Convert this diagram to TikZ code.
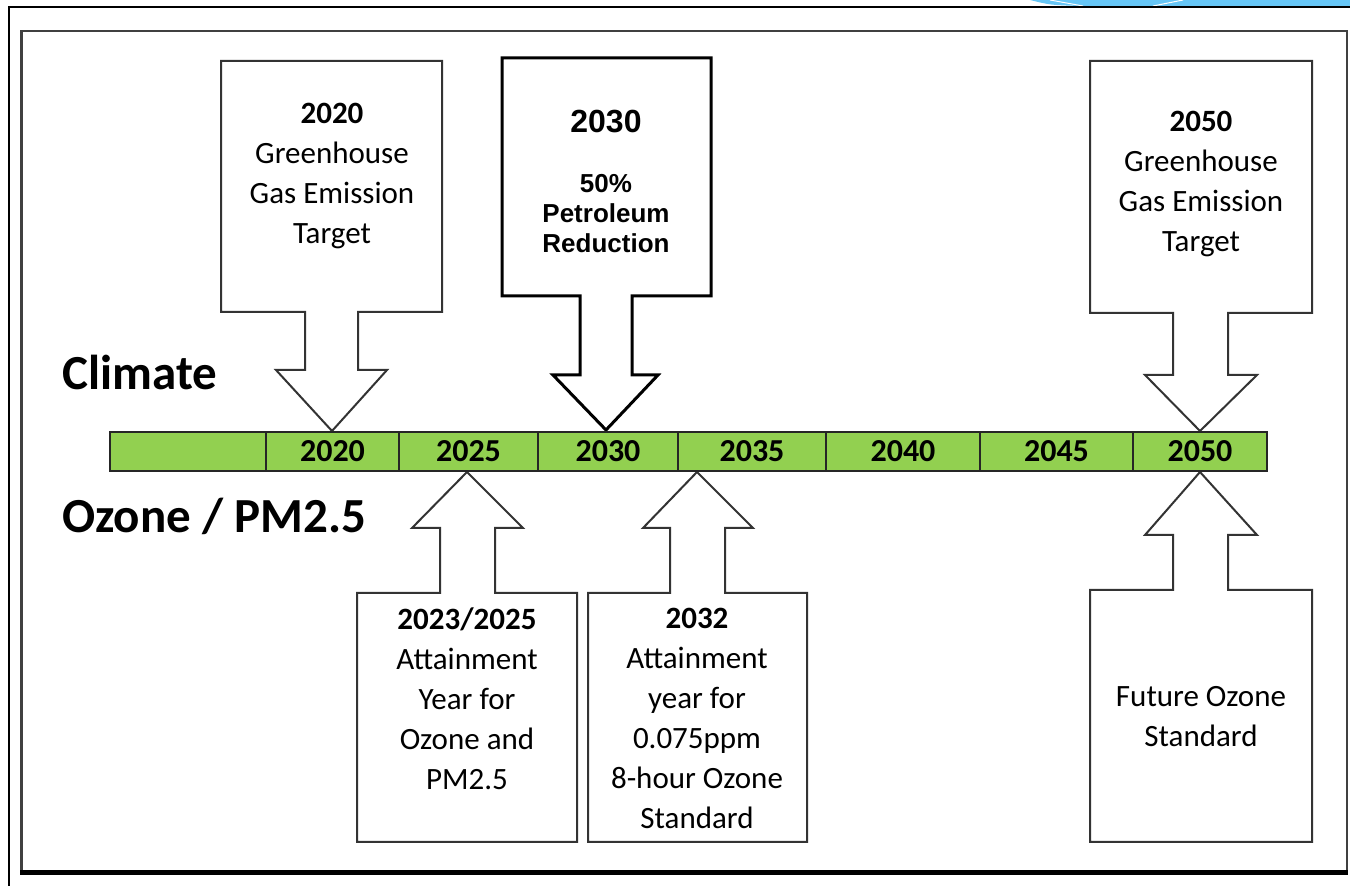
\documentclass[tikz,border=0pt]{standalone}
\usepackage{fontspec}
\setmainfont{Carlito}
\newfontfamily\arialf{Liberation Sans}
\definecolor{barg}{HTML}{92D050}
\definecolor{skyb}{HTML}{66C6F6}
\begin{document}
\begin{tikzpicture}[x=0.5pt,y=-0.5pt,
  frm/.style={draw=black!80, line width=1pt, fill=white, line join=miter},
  frmb/.style={draw=black, line width=1.5pt, fill=white, line join=miter},
  cell/.style={draw=black!85, line width=1pt, fill=barg, minimum height=19.5pt, inner sep=0pt,
     font=\bfseries\fontsize{16}{19}\selectfont},
  txt/.style={align=center, font=\fontsize{15.5}{20}\selectfont, inner sep=0pt},
  lab/.style={font=\bfseries\fontsize{24.5}{29}\selectfont, inner sep=0pt, anchor=base west},
  arl/.style={align=center, inner sep=0pt, font=\arialf\bfseries\fontsize{13}{15}\selectfont}]
\useasboundingbox (0,0) rectangle (1350,886);
% slide decoration
\fill[skyb] (1030,0) .. controls (1050,5) .. (1080,6) -- (1350,6) -- (1350,0) -- cycle;
\draw[white, line width=0.5pt] (1050,0) -- (1083,6) (1153,6) -- (1183,0);
% outer frame
\draw[line width=1pt] (9,886) -- (9,7) -- (1350,7);
% inner frame
\draw[draw=black!75, line width=1pt] (21,31) rectangle (1347,873);
\draw[draw=black!75, line width=1.5pt] (21.5,31) -- (21.5,873);
\draw[line width=2.5pt] (20,873) -- (1348,873);
% labels
\node[lab] (clim) at (62,390) {Climate};
\node[lab] (ozpm) at (62,533) {Ozone / PM2.5};
% down arrows
\draw[frm] (221,61) -- (442,61) -- (442,312) -- (358,312) -- (358,370) -- (387,370) -- (332,431) -- (276,370) -- (305,370) -- (305,312) -- (221,312) -- cycle;
\draw[frmb] (502,58) -- (711,58) -- (711,296) -- (632,296) -- (632,375) -- (658,375) -- (606,430) -- (553,375) -- (580,375) -- (580,296) -- (502,296) -- cycle;
\draw[frm] (1090,61) -- (1312,61) -- (1312,313) -- (1228,313) -- (1228,375) -- (1257,375) -- (1200,431) -- (1145,375) -- (1173,375) -- (1173,313) -- (1090,313) -- cycle;
% up arrows
\draw[frm] (467,472) -- (523,528) -- (495,528) -- (495,593) -- (577,593) -- (577,842) -- (357,842) -- (357,593) -- (440,593) -- (440,528) -- (412,528) -- cycle;
\draw[frm] (697,472) -- (753,528) -- (725,528) -- (725,593) -- (807,593) -- (807,842) -- (588,842) -- (588,593) -- (670,593) -- (670,528) -- (643,528) -- cycle;
\draw[frm] (1200,472) -- (1257,535) -- (1228,535) -- (1228,590) -- (1312,590) -- (1312,842) -- (1090,842) -- (1090,590) -- (1173,590) -- (1173,535) -- (1145,535) -- cycle;
% box texts
\node[txt] (t2020) at (332,176) {\textbf{2020}\\Greenhouse\\Gas Emission\\Target};
\node[arl, font=\arialf\bfseries\fontsize{16}{19}\selectfont] (t2030y) at (606,122) {2030};
\node[arl] (t2030) at (606,214) {50\%\\Petroleum\\Reduction};
\node[txt] (t2050) at (1201,184) {\textbf{2050}\\Greenhouse\\Gas Emission\\Target};
\node[txt] (t2025) at (467,699) {\textbf{2023/2025}\\Attainment\\Year for\\Ozone and\\PM2.5};
\node[txt] (t2032) at (697,718) {\textbf{2032}\\Attainment\\year for\\0.075ppm\\8-hour Ozone\\Standard};
\node[txt] (tfut) at (1201,717) {Future Ozone\\Standard};
% timeline bar
\node[cell, minimum width=78pt] (c0) at (188,451.5) {};
\node[cell, minimum width=66.5pt] (c2020) at (332.5,451.5) {2020};
\node[cell, minimum width=69.5pt] (c2025) at (468.5,451.5) {2025};
\node[cell, minimum width=70pt] (c2030) at (608,451.5) {2030};
\node[cell, minimum width=74pt] (c2035) at (752,451.5) {2035};
\node[cell, minimum width=77pt] (c2040) at (903,451.5) {2040};
\node[cell, minimum width=76.5pt] (c2045) at (1056.5,451.5) {2045};
\node[cell, minimum width=67pt] (c2050) at (1200,451.5) {2050};
\end{tikzpicture}
\end{document}
